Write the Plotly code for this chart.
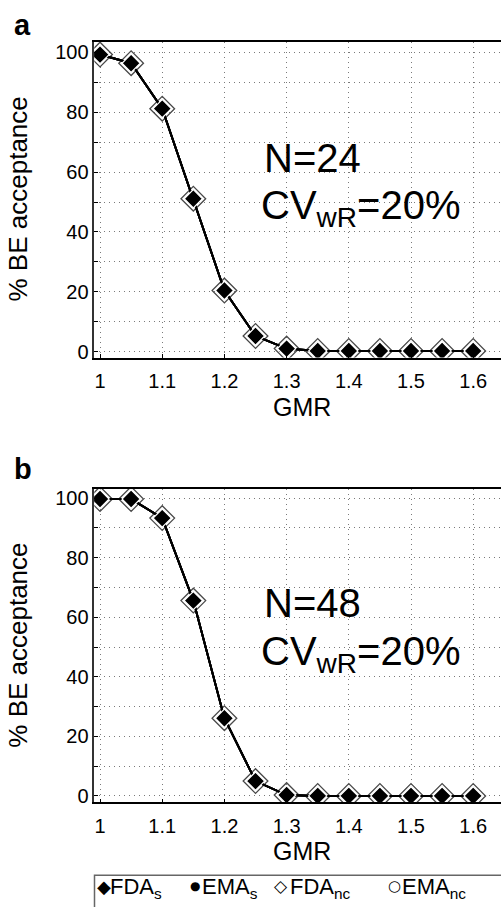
import plotly.graph_objects as go

# ---------------- data ----------------
gmr = [1.0, 1.05, 1.1, 1.15, 1.2, 1.25, 1.3, 1.35, 1.4, 1.45, 1.5, 1.55, 1.6]

# panel a: N=24, CVwR=20%
fda_s_a = [99.3, 96.4, 81.2, 51.1, 20.4, 5.2, 1.0, 0.2, 0.2, 0.2, 0.2, 0.2, 0.2]
ema_s_a = [99.3, 96.4, 81.2, 51.1, 20.4, 5.2, 1.0, 0.2, 0.2, 0.2, 0.2, 0.2, 0.2]
fda_nc_a = [99.3, 96.4, 81.2, 51.1, 20.4, 5.2, 1.0, 0.2, 0.2, 0.2, 0.2, 0.2, 0.2]
ema_nc_a = [99.3, 96.4, 81.2, 51.1, 20.4, 5.2, 1.0, 0.2, 0.2, 0.2, 0.2, 0.2, 0.2]

# panel b: N=48, CVwR=20%
fda_s_b = [99.7, 99.7, 93.3, 65.6, 26.1, 5.0, 0.3, 0.0, 0.0, 0.0, 0.0, 0.0, 0.0]
ema_s_b = [99.7, 99.7, 93.3, 65.6, 26.1, 5.0, 0.3, 0.0, 0.0, 0.0, 0.0, 0.0, 0.0]
fda_nc_b = [99.7, 99.7, 93.3, 65.6, 26.1, 5.0, 0.3, 0.0, 0.0, 0.0, 0.0, 0.0, 0.0]
ema_nc_b = [99.7, 99.7, 93.3, 65.6, 26.1, 5.0, 0.3, 0.0, 0.0, 0.0, 0.0, 0.0, 0.0]

y_tick_vals = [0, 20, 40, 60, 80, 100]
y_tick_text = ["0", "20", "40", "60", "80", "100"]
x_tick_vals = [1.0, 1.1, 1.2, 1.3, 1.4, 1.5, 1.6]
x_tick_text = ["1", "1.1", "1.2", "1.3", "1.4", "1.5", "1.6"]

series_names = ["EMA<sub>nc</sub>", "FDA<sub>nc</sub>", "EMA<sub>s</sub>", "FDA<sub>s</sub>"]
legend_symbols = ["◆", "●", "◇", "○"]
legend_labels = ["FDA<sub>s</sub>", "EMA<sub>s</sub>", "FDA<sub>nc</sub>", "EMA<sub>nc</sub>"]
panel_letters = ["a", "b"]
n_labels = ["N=24", "N=48"]
cv_label = "CV<sub>wR</sub>=20%"
x_title = "GMR"
y_title = "% BE acceptance"

# ---------------- layout helpers ----------------
W, H = 501, 910
FONT = "Liberation Sans, Arial, sans-serif"


def px(x):
    return x / W


def py(y):
    return 1 - y / H


fig = go.Figure()

marker_styles = [
    dict(symbol="circle-open", size=11, color="black", line=dict(width=1.5, color="black")),
    dict(symbol="diamond-open", size=19, color="#4a4a4a", line=dict(width=1.3, color="#4a4a4a")),
    dict(symbol="circle", size=10, color="black"),
    dict(symbol="diamond", size=14, color="black", line=dict(width=1.2, color="white")),
]

panels = [
    ("x", "y", [ema_nc_a, fda_nc_a, ema_s_a, fda_s_a]),
    ("x2", "y2", [ema_nc_b, fda_nc_b, ema_s_b, fda_s_b]),
]
for xa, ya, series in panels:
    for name, vals, ms in zip(series_names, series, marker_styles):
        fig.add_trace(go.Scatter(
            x=gmr, y=vals, name=name, xaxis=xa, yaxis=ya,
            mode="lines+markers",
            line=dict(color="black", width=2),
            marker=ms, showlegend=False,
        ))

x_dom = [px(94.3), 1.0]
y_dom_a = [py(358.3), py(40)]
y_dom_b = [py(806.7), py(490.7)]

GRID = dict(gridcolor="#7a7a7a", gridwidth=1, griddash="1px,4px")

xcommon = dict(
    range=[0.9908, 1.6447], tickmode="array", tickvals=x_tick_vals, ticktext=x_tick_text,
    showgrid=True, **GRID,
    showline=True, linecolor="black", linewidth=1.5, mirror=True,
    ticks="inside", ticklen=4, tickcolor="black",
    tickfont=dict(family=FONT, size=20, color="black"), ticklabelstandoff=5,
    zeroline=False, domain=x_dom,
)
ycommon = dict(
    tickmode="array", tickvals=y_tick_vals, ticktext=y_tick_text,
    showgrid=True, **GRID,
    minor=dict(tick0=0, dtick=10, showgrid=True, ticks="inside", ticklen=4, tickcolor="black", **GRID),
    showline=True, linecolor="#333333", linewidth=1.5, mirror=False,
    ticks="inside", ticklen=4, tickcolor="black",
    tickfont=dict(family=FONT, size=20, color="black"), ticklabelstandoff=0,
    zeroline=False,
)

fig.update_layout(
    width=W, height=H,
    margin=dict(l=0, r=0, t=0, b=0),
    paper_bgcolor="white", plot_bgcolor="white",
    font=dict(family=FONT, color="black"),
    xaxis=dict(**xcommon, anchor="y"),
    yaxis=dict(**ycommon, range=[-2.0, 103.6], domain=y_dom_a, anchor="x"),
    xaxis2=dict(**xcommon, anchor="y2"),
    yaxis2=dict(**ycommon, range=[-2.2, 103.1], domain=y_dom_b, anchor="x2"),
)

ann = []
# panel letters
for letter, yc in zip(panel_letters, [23, 471]):
    ann.append(dict(x=px(12), y=py(yc), xref="paper", yref="paper", text=f"<b>{letter}</b>",
                    showarrow=False, xanchor="left", yanchor="middle",
                    font=dict(family=FONT, size=29, color="black")))
# axis titles
for yc in [199, 648.7]:
    ann.append(dict(x=px(18), y=py(yc), xref="paper", yref="paper", text=y_title, textangle=-90,
                    showarrow=False, xanchor="center", yanchor="middle",
                    font=dict(family=FONT, size=26, color="black")))
for yc in [408, 856]:
    ann.append(dict(x=px(301.7), y=py(yc), xref="paper", yref="paper", text=x_title,
                    showarrow=False, xanchor="center", yanchor="middle", borderpad=0,
                    font=dict(family=FONT, size=25, color="black")))
# N / CV labels
for lab, yn, ycv in zip(n_labels, [157, 606], [208, 657]):
    ann.append(dict(x=px(262), y=py(yn), xref="paper", yref="paper", text=lab,
                    showarrow=False, xanchor="left", yanchor="middle",
                    font=dict(family=FONT, size=40, color="black")))
    ann.append(dict(x=px(259), y=py(ycv), xref="paper", yref="paper", text=cv_label,
                    showarrow=False, xanchor="left", yanchor="middle",
                    font=dict(family=FONT, size=40, color="black")))
# legend (symbol glyph + label)
for sym, ssize, xs, lab, xl in zip(legend_symbols, [18, 12, 17, 15], [104, 195, 281, 394],
                                    legend_labels, [109, 201, 289, 401]):
    ann.append(dict(x=px(xs), y=py(891), xref="paper", yref="paper", text=sym,
                    showarrow=False, xanchor="center", yanchor="middle", borderpad=0,
                    font=dict(family="DejaVu Sans", size=ssize, color="black")))
    ann.append(dict(x=px(xl), y=py(893), xref="paper", yref="paper", text=lab,
                    showarrow=False, xanchor="left", yanchor="middle", borderpad=0,
                    font=dict(family=FONT, size=22, color="black")))
fig.update_layout(annotations=ann)

fig.add_shape(type="path", xref="paper", yref="paper",
              path=f"M {px(94.5)} {py(912)} L {px(94.5)} {py(880)} L {px(503)} {py(880)}",
              line=dict(color="#666666", width=1.5))

fig.write_html(
    "out.html",
    config={"displayModeBar": False},
    post_script="document.body.style.margin='0px';document.body.style.overflow='hidden';",
)
